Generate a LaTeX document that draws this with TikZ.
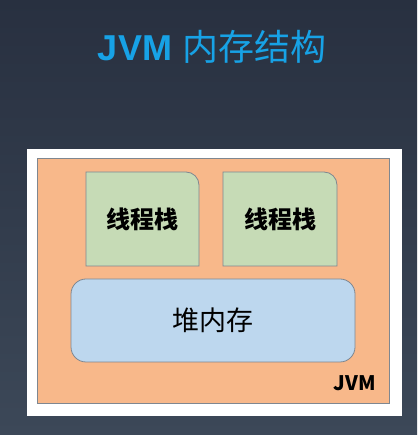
\documentclass[tikz,border=0pt]{standalone}
\usepackage{fontspec}
\setmainfont{Liberation Sans}
\newfontfamily\cjk{Noto Sans CJK SC}
\definecolor{bgtop}{HTML}{283040}
\definecolor{bgbot}{HTML}{3C4858}
\definecolor{titleblue}{HTML}{17A2E6}
\definecolor{jvmorange}{HTML}{F8B88A}
\definecolor{stackgreen}{HTML}{C6DBB6}
\definecolor{heapblue}{HTML}{BDD7EE}
\definecolor{edgegray}{HTML}{7F8790}
\tikzset{
	stack/.style={fill=stackgreen, draw=edgegray, line width=0.8pt},
	stacktext/.style={font=\cjk\bfseries\fontsize{24}{28}\selectfont},
}
\begin{document}
\begin{tikzpicture}[x=1pt, y=1pt]
	% page 417 x 435, y counted from the bottom
	\shade[top color=bgtop, bottom color=bgbot] (0, 0) rectangle (417, 435);
	\useasboundingbox (0, 0) rectangle (417, 435);
	\node[font=\fontsize{36}{40}\selectfont, text=titleblue] (title) at (212, 388) {\textbf{JVM} {\cjk 内存结构}};

	\node[fill=white, minimum width=375, minimum height=267, inner sep=0] (frame) at (214.5, 152.5) {};
	\node[fill=jvmorange, draw=edgegray, line width=0.6pt, minimum width=352, minimum height=245, inner sep=0] (jvm) at (213, 154.5) {};

	\draw[stack] (86, 169) -- (86, 263) -- (186, 263) arc (90:0:13) -- (199, 169) -- cycle;
	\node[stacktext] (stackA) at (142.5, 216) {线程栈};
	\draw[stack] (223, 169) -- (223, 263) -- (324, 263) arc (90:0:13) -- (337, 169) -- cycle;
	\node[stacktext] (stackB) at (280, 216) {线程栈};

	\node[fill=heapblue, draw=edgegray, line width=0.8pt, rounded corners=15, minimum width=284, minimum height=83, inner sep=0, font=\cjk\fontsize{27}{30}\selectfont] (heap) at (213, 114.5) {堆内存};
	\node[font=\cjk\bfseries\fontsize{20}{24}\selectfont] (jvmlabel) at (355, 52) {JVM};
\end{tikzpicture}
\end{document}
